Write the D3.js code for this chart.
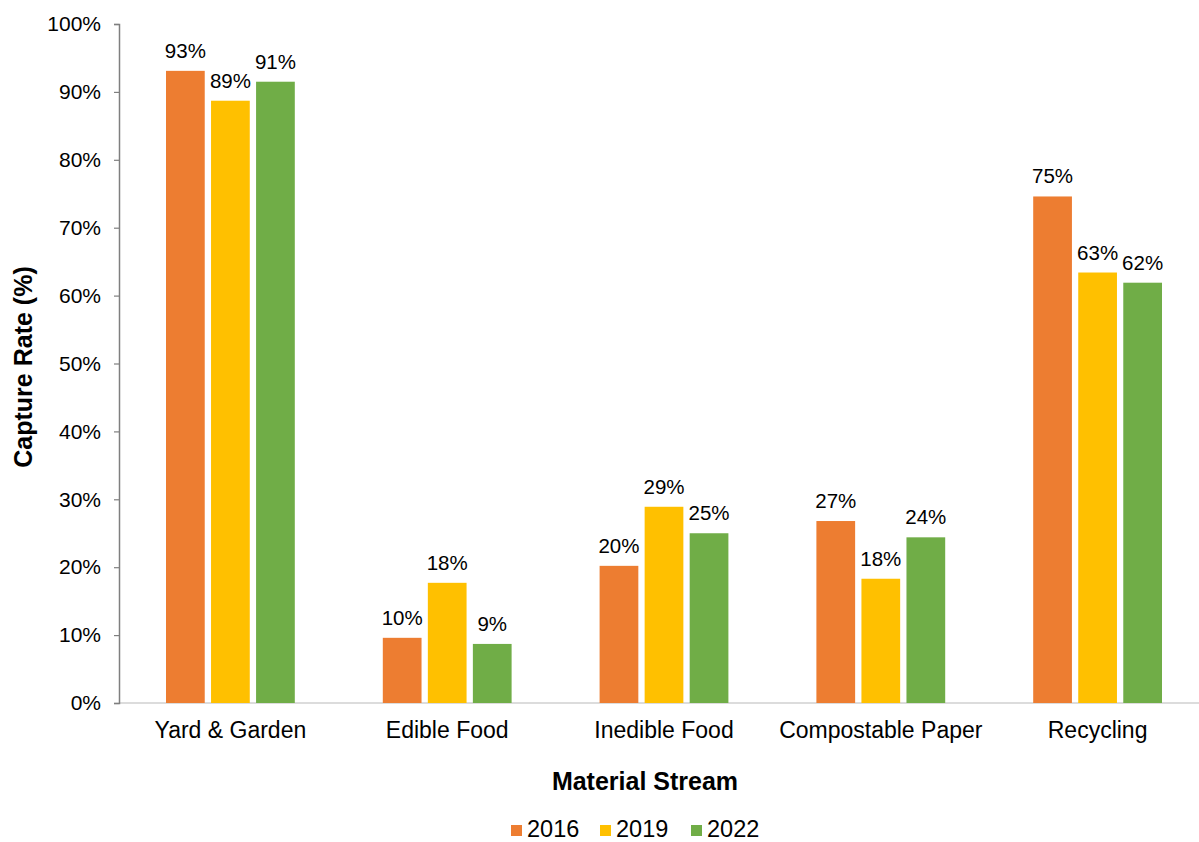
<!DOCTYPE html>
<html lang="en">
<head>
<meta charset="utf-8">
<script src="https://d3js.org/d3.v7.min.js"></script>
<style>
  body { margin: 0; background: #fff; }
  text { font-family: "Liberation Sans", Arial, sans-serif; fill: #000; }
</style>
</head>
<body>
<div id="chart"></div>
<script>
// data
const categories = ["Yard & Garden", "Edible Food", "Inedible Food", "Compostable Paper", "Recycling"];
const years = ["2016", "2019", "2022"];
const values2016 = [93.1, 9.6, 20.2, 26.8, 74.6];
const values2019 = [88.7, 17.7, 28.9, 18.3, 63.4];
const values2022 = [91.5, 8.7, 25.0, 24.4, 61.9];
const labels2016 = ["93%", "10%", "20%", "27%", "75%"];
const labels2019 = ["89%", "18%", "29%", "18%", "63%"];
const labels2022 = ["91%", "9%", "25%", "24%", "62%"];
const yTicks = [0, 10, 20, 30, 40, 50, 60, 70, 80, 90, 100];
const colors = ["#ED7D31", "#FFC000", "#70AD47"];

const seriesValues = [values2016, values2019, values2022];
const seriesLabels = [labels2016, labels2019, labels2022];

const W = 1199, H = 842;
const svg = d3.select("#chart").append("svg")
  .attr("width", W).attr("height", H);

// scales
var x0 = d3.scaleBand()
  .domain(categories)
  .range([122, 1206])
  .paddingInner(0).paddingOuter(0);

var x1 = d3.scaleBand()
  .domain(years)
  .range([44, x0.bandwidth() - 44])
  .paddingInner(0.14);

var y = d3.scaleLinear()
  .domain([0, 100])
  .range([703, 24]);

// x baseline
svg.append("line")
  .attr("x1", 119).attr("x2", 1199)
  .attr("y1", y(0)).attr("y2", y(0))
  .attr("stroke", "#d0d0d0").attr("stroke-width", 1.5);

// y axis
var yAxis = svg.append("g")
  .attr("transform", "translate(119,0)")
  .call(d3.axisLeft(y).tickValues(yTicks).tickSize(5).tickPadding(13)
    .tickFormat(function(d) { return d + "%"; }));
yAxis.select(".domain").attr("stroke", "#7f7f7f").attr("stroke-width", 1.5);
yAxis.selectAll(".tick line").attr("stroke", "#7f7f7f").attr("stroke-width", 1.2);
yAxis.selectAll(".tick text")
  .style("font-family", "'Liberation Sans', Arial, sans-serif")
  .style("font-size", "21px").attr("fill", "#000");

// category labels
svg.append("g").selectAll("text")
  .data(categories)
  .join("text")
  .attr("x", function(d) { return x0(d) + x0.bandwidth() / 2; })
  .attr("y", 738)
  .attr("text-anchor", "middle")
  .style("font-size", "23px")
  .text(function(d) { return d; });

// bars
years.forEach(function(yr, s) {
  var g = svg.append("g");
  g.selectAll("rect")
    .data(categories)
    .join("rect")
    .attr("x", function(d) { return x0(d) + x1(yr); })
    .attr("y", function(d, i) { return y(seriesValues[s][i]); })
    .attr("width", x1.bandwidth())
    .attr("height", function(d, i) { return y(0) - y(seriesValues[s][i]); })
    .attr("fill", colors[s]);

  g.selectAll("text")
    .data(categories)
    .join("text")
    .attr("x", function(d) { return x0(d) + x1(yr) + x1.bandwidth() / 2; })
    .attr("y", function(d, i) { return y(seriesValues[s][i]) - 13; })
    .attr("text-anchor", "middle")
    .style("font-size", "20.5px")
    .text(function(d, i) { return seriesLabels[s][i]; });
});

// axis titles
svg.append("text")
  .attr("transform", "translate(32,367) rotate(-90)")
  .attr("text-anchor", "middle")
  .style("font-size", "25px").style("font-weight", "bold")
  .text("Capture Rate (%)");

svg.append("text")
  .attr("x", 645).attr("y", 790)
  .attr("text-anchor", "middle")
  .style("font-size", "25px").style("font-weight", "bold")
  .text("Material Stream");

// legend
var legendX = [511, 600, 691];
var legend = svg.append("g").selectAll("g")
  .data(years)
  .join("g")
  .attr("transform", function(d, i) { return "translate(" + legendX[i] + ",837)"; });
legend.append("rect")
  .attr("x", 0).attr("y", -12).attr("width", 11).attr("height", 11)
  .attr("fill", function(d, i) { return colors[i]; });
legend.append("text")
  .attr("x", 16).attr("y", 0)
  .style("font-size", "23.5px")
  .text(function(d) { return d; });
</script>
</body>
</html>
